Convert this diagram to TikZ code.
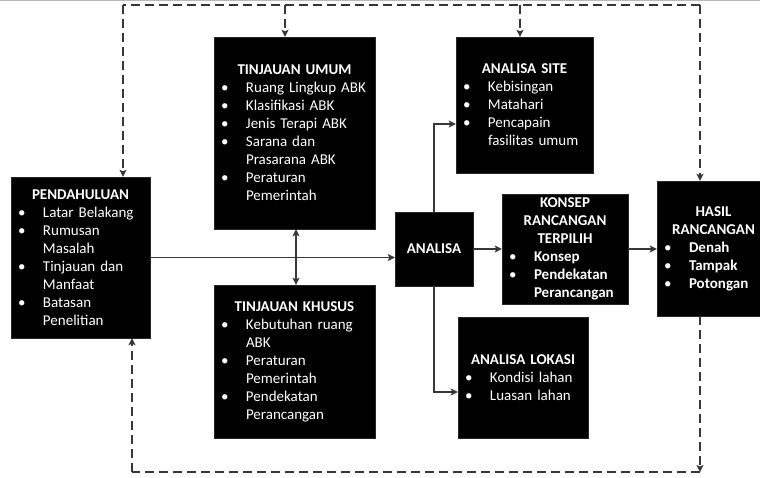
\documentclass[tikz,border=0pt]{standalone}
\usepackage{fontspec}
\setmainfont{Carlito}
\usetikzlibrary{arrows.meta,calc}
\definecolor{ln}{RGB}{55,55,55}
\newcommand\bitem[1]{\makebox[\linewidth][l]{\makebox[32pt][l]{\hspace{7pt}\textbullet}#1}}
\newcommand\bcont[1]{\makebox[\linewidth][l]{\hspace{32pt}#1}}
\begin{document}
\begin{tikzpicture}[x=1pt,y=-1pt,
  box/.style={fill=black,draw=black!85,inner sep=0pt,text=white,align=center,
    font=\fontsize{15}{18}\selectfont},
  bx/.style 2 args={box,minimum width=#1pt,text width=#1pt,minimum height=#2pt},
  arr/.style={draw=ln,line width=1.6pt,-{Stealth[length=7pt,width=7pt,inset=1.5pt]}},
  arrb/.style={draw=ln,line width=1.6pt,{Stealth[length=7pt,width=7pt,inset=1.5pt]}-{Stealth[length=7pt,width=7pt,inset=1.5pt]}},
  dsh/.style={draw=ln,line width=2pt,dash pattern=on 9pt off 5pt},
  dsha/.style={dsh,-{Stealth[length=7pt,width=7pt,inset=1.5pt]}}]
\useasboundingbox[fill=white] (0,0) rectangle (760,477);
\draw[gray!55,line width=1.2pt] (0,0.8) -- (760,0.8);

\node[bx={139}{161}] (pend) at (80.5,257.5) {\textbf{PENDAHULUAN}\\
  \bitem{Latar Belakang}\\ \bitem{Rumusan}\\ \bcont{Masalah}\\
  \bitem{Tinjauan dan}\\ \bcont{Manfaat}\\ \bitem{Batasan}\\ \bcont{Penelitian}};
\node[bx={161}{192}] (tu) at (294.5,133) {\textbf{TINJAUAN UMUM}\\
  \bitem{Ruang Lingkup ABK}\\ \bitem{Klasifikasi ABK}\\ \bitem{Jenis Terapi ABK}\\
  \bitem{Sarana dan}\\ \bcont{Prasarana ABK}\\ \bitem{Peraturan}\\ \bcont{Pemerintah}};
\node[bx={161}{153}] (tk) at (294.5,361.5) {\textbf{TINJAUAN KHUSUS}\\
  \bitem{Kebutuhan ruang}\\ \bcont{ABK}\\ \bitem{Peraturan}\\ \bcont{Pemerintah}\\
  \bitem{Pendekatan}\\ \bcont{Perancangan}};
\node[bx={78}{74}] (ana) at (434,249) {\textbf{ANALISA}};
\node[bx={137}{136}] (site) at (524.5,105) {\textbf{ANALISA SITE}\\
  \bitem{Kebisingan}\\ \bitem{Matahari}\\ \bitem{Pencapain}\\ \bcont{fasilitas umum}};
\node[bx={130}{121}] (lok) at (523,377.5) {\textbf{ANALISA LOKASI}\\
  \bitem{Kondisi lahan}\\ \bitem{Luasan lahan}};
\node[bx={126}{110}] (kon) at (565,249) {\textbf{KONSEP}\\ \textbf{RANCANGAN}\\ \textbf{TERPILIH}\\
  \bitem{\textbf{Konsep}}\\ \bitem{\textbf{Pendekatan}}\\ \bcont{\textbf{Perancangan}}};
\node[bx={113}{135}] (has) at (713.5,248.5) {\textbf{HASIL}\\ \textbf{RANCANGAN}\\
  \bitem{\textbf{Denah}}\\ \bitem{\textbf{Tampak}}\\ \bitem{\textbf{Potongan}}};

% solid connectors
\draw[arr] (pend.east) -- (pend.east -| ana.west);
\draw[arrb] ([xshift=1.5pt]tu.south) -- ([xshift=1.5pt]tk.north);
\draw[arr] (ana.north) |- ([yshift=-19pt]site.west);
\draw[arr] (ana.south) |- ([yshift=-14.5pt]lok.west);
\draw[arr] (ana.east) -- (ana.east -| kon.west);
\draw[arr] (kon.east) -- (kon.east -| has.west);

% dashed feedback loops
\coordinate (tl) at (123,4.5);
\coordinate (tr) at (700,4.5);
\coordinate (bl) at (132,472);
\coordinate (br) at (700,472);
\draw[dsh] (tr) -- (tl);
\draw[dsha] (tl) -- (tl |- pend.north);
\draw[dsha] ([xshift=-9.5pt]tu.north |- tl) -- ([xshift=-9.5pt]tu.north);
\draw[dsha] ([xshift=-4.5pt]site.north |- tl) -- ([xshift=-4.5pt]site.north);
\draw[dsha] (tr) -- (tr |- has.north);
\draw[dsha] (br |- has.south) -- (br);
\draw[dsh] (br) -- (bl);
\draw[dsha] (bl) -- (bl |- pend.south);
\end{tikzpicture}
\end{document}
